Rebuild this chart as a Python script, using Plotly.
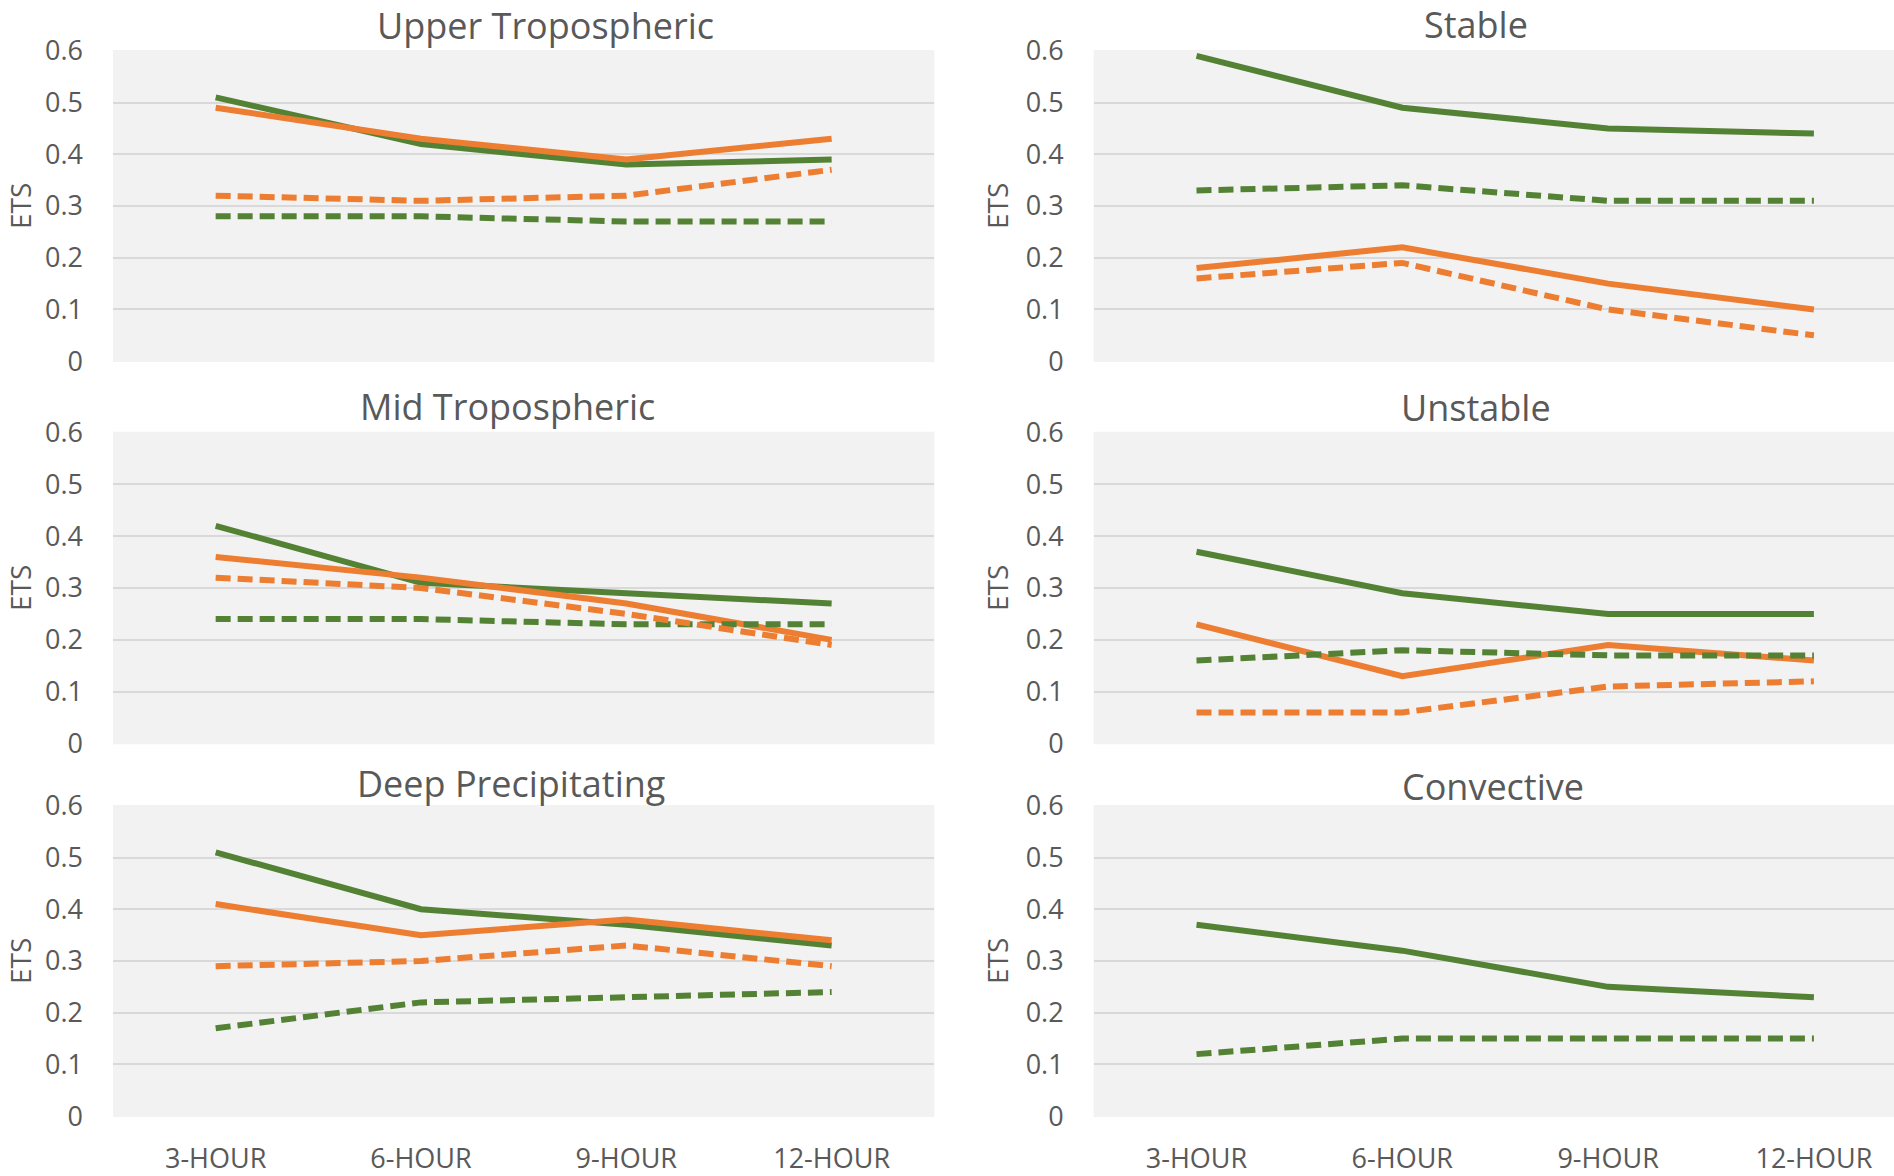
import plotly.graph_objects as go

categories = ["3-HOUR", "6-HOUR", "9-HOUR", "12-HOUR"]
y_tick_vals = [0, 0.1, 0.2, 0.3, 0.4, 0.5, 0.6]
y_tick_text = ["0", "0.1", "0.2", "0.3", "0.4", "0.5", "0.6"]

panel_titles = ["Upper Tropospheric", "Stable", "Mid Tropospheric",
                "Unstable", "Deep Precipitating", "Convective"]

# series per panel: green solid, orange solid, green dashed, orange dashed
upper_green_solid = [0.51, 0.42, 0.38, 0.39]
upper_orange_solid = [0.49, 0.43, 0.39, 0.43]
upper_green_dash = [0.28, 0.28, 0.27, 0.27]
upper_orange_dash = [0.32, 0.31, 0.32, 0.37]

stable_green_solid = [0.59, 0.49, 0.45, 0.44]
stable_orange_solid = [0.18, 0.22, 0.15, 0.10]
stable_green_dash = [0.33, 0.34, 0.31, 0.31]
stable_orange_dash = [0.16, 0.19, 0.10, 0.05]

mid_green_solid = [0.42, 0.31, 0.29, 0.27]
mid_orange_solid = [0.36, 0.32, 0.27, 0.20]
mid_green_dash = [0.24, 0.24, 0.23, 0.23]
mid_orange_dash = [0.32, 0.30, 0.25, 0.19]

unstable_green_solid = [0.37, 0.29, 0.25, 0.25]
unstable_orange_solid = [0.23, 0.13, 0.19, 0.16]
unstable_green_dash = [0.16, 0.18, 0.17, 0.17]
unstable_orange_dash = [0.06, 0.06, 0.11, 0.12]

deep_green_solid = [0.51, 0.40, 0.37, 0.33]
deep_orange_solid = [0.41, 0.35, 0.38, 0.34]
deep_green_dash = [0.17, 0.22, 0.23, 0.24]
deep_orange_dash = [0.29, 0.30, 0.33, 0.29]

conv_green_solid = [0.37, 0.32, 0.25, 0.23]
conv_green_dash = [0.12, 0.15, 0.15, 0.15]

panels = [
    [upper_green_solid, upper_orange_solid, upper_green_dash, upper_orange_dash],
    [stable_green_solid, stable_orange_solid, stable_green_dash, stable_orange_dash],
    [mid_green_solid, mid_orange_solid, mid_green_dash, mid_orange_dash],
    [unstable_green_solid, unstable_orange_solid, unstable_green_dash, unstable_orange_dash],
    [deep_green_solid, deep_orange_solid, deep_green_dash, deep_orange_dash],
    [conv_green_solid, None, conv_green_dash, None],
]

GREEN = "#548235"
ORANGE = "#ED7D31"
TXT = "#595959"
FONT = "Open Sans"
W, H = 1894, 1176
LW = 6
DASH = "15px,7px"
styles = [(GREEN, "solid"), (ORANGE, "solid"), (GREEN, DASH), (ORANGE, DASH)]

# pixel layout
x_dom = [(113, 934.3), (1093.6, 1894)]
y_dom = [(50, 362), (431.7, 744.3), (805, 1117)]
x_ranges = [[-0.5, 3.5], [-0.5, -0.5 + (1894 - 1093.6) / 205.8]]
title_pos = [(545, 25.5), (1476, 24.5), (507, 406), (1475.5, 408), (511, 783), (1493, 786)]
ets_x = [0, 977]

fig = go.Figure()
layout = dict(
    width=W, height=H,
    margin=dict(l=0, r=0, t=0, b=0, pad=0),
    paper_bgcolor="white", plot_bgcolor="#F2F2F2",
    showlegend=False,
    font=dict(family=FONT, color=TXT),
)
annotations = []
for i, series in enumerate(panels):
    row, col = divmod(i, 2)
    ax = "" if i == 0 else str(i + 1)
    xd = x_dom[col]
    yd = y_dom[row]
    layout["xaxis" + ax] = dict(
        domain=[xd[0] / W, xd[1] / W],
        anchor="y" + ax,
        type="category",
        categoryorder="array", categoryarray=categories,
        range=x_ranges[col],
        showgrid=False, zeroline=False, showline=False,
        showticklabels=(row == 2),
        ticks="", ticklabelstandoff=23, automargin=False,
        tickfont=dict(family=FONT, size=27, color=TXT),
    )
    layout["yaxis" + ax] = dict(
        domain=[1 - yd[1] / H, 1 - yd[0] / H],
        anchor="x" + ax,
        range=[-0.0015, 0.6015],
        tickvals=y_tick_vals, ticktext=y_tick_text,
        showgrid=True, gridcolor="#D9D9D9", gridwidth=2.2,
        zeroline=False, showline=False, ticks="",
        ticklabelstandoff=29, automargin=False,
        tickfont=dict(family=FONT, size=27, color=TXT),
    )
    for s, (color, dash) in zip(series, styles):
        if s is None:
            continue
        fig.add_trace(go.Scatter(
            x=categories, y=s, mode="lines",
            line=dict(color=color, width=LW, dash=dash),
            xaxis="x" + ax, yaxis="y" + ax, hoverinfo="skip",
        ))
    tx, ty = title_pos[i]
    annotations.append(dict(
        text=panel_titles[i], x=tx / W, y=1 - ty / H, xref="paper", yref="paper",
        xanchor="center", yanchor="middle", showarrow=False, borderpad=0,
        font=dict(family=FONT, size=36, color=TXT),
    ))
    annotations.append(dict(
        text="ETS", x=ets_x[col] / W, y=1 - (yd[0] + yd[1]) / 2 / H,
        xref="paper", yref="paper", xanchor="left", yanchor="middle",
        textangle=-90, showarrow=False, borderpad=0,
        font=dict(family=FONT, size=28, color=TXT),
    ))

layout["annotations"] = annotations
fig.update_layout(**layout)
fig.write_html("out.html")
